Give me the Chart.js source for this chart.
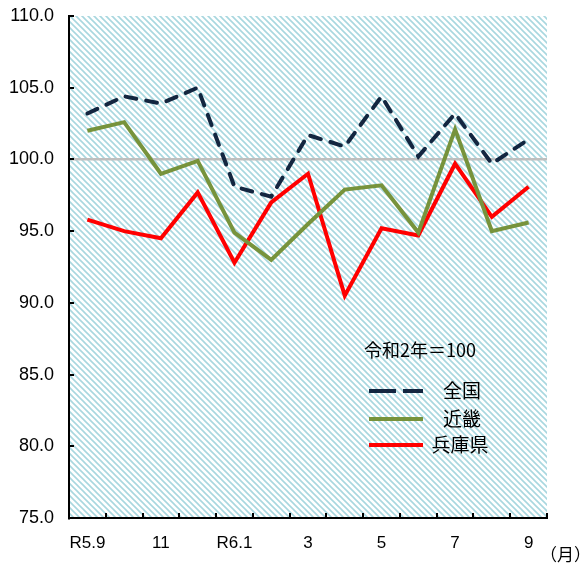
<!DOCTYPE html>
<html>
<head>
<meta charset="utf-8">
<script src="https://cdn.jsdelivr.net/npm/chart.js@4.4.0/dist/chart.umd.min.js"></script>
<style>
  html, body { margin: 0; padding: 0; background: #ffffff; }
  #wrap { width: 587px; height: 569px; position: relative; }
</style>
</head>
<body>
<div id="wrap"><canvas id="priceChart" width="587" height="569"></canvas></div>
<script>
// months R5.9 .. R6.9
const months = ["R5.9", "10", "11", "12", "R6.1", "2", "3", "4", "5", "6", "7", "8", "9"];
const zenkoku = [103.2, 104.4, 103.9, 105.0, 98.1, 97.4, 101.7, 100.9, 104.4, 100.2, 103.2, 99.7, 101.4];
const kinki = [102.0, 102.6, 99.0, 99.9, 94.9, 93.0, 95.5, 97.9, 98.2, 94.9, 102.1, 95.0, 95.6];
const hyogo = [95.8, 95.0, 94.5, 97.7, 92.8, 97.0, 99.0, 90.5, 95.2, 94.7, 99.7, 96.0, 98.1];
const yMin = 75, yMax = 110, yStep = 5;

// striped background for the plot area
function makeStripes() {
    let c = document.createElement("canvas");
    c.width = 6; c.height = 6;
    let g = c.getContext("2d");
    g.fillStyle = "#ffffff";
    g.fillRect(0, 0, 6, 6);
    g.strokeStyle = "#a8d7df";
    g.lineWidth = 1.6;
    g.beginPath();
    g.moveTo(-3, -3); g.lineTo(9, 9);
    g.moveTo(-3, 3); g.lineTo(3, 9);
    g.moveTo(3, -3); g.lineTo(9, 3);
    g.stroke();
    return c;
}

const bgPlugin = {
    id: "stripes",
    beforeDraw(chart) {
        let a = chart.chartArea, ctx = chart.ctx;
        ctx.save();
        ctx.fillStyle = ctx.createPattern(makeStripes(), "repeat");
        ctx.fillRect(a.left, a.top, a.right - a.left, a.bottom - a.top);
        ctx.restore();
    }
};

// inward tick marks + legend + notes
const extrasPlugin = {
    id: "extras",
    afterDatasetsDraw(chart) {
        let ctx = chart.ctx, a = chart.chartArea;
        let y = chart.scales.y;
        ctx.save();
        ctx.strokeStyle = "#000000";
        ctx.lineWidth = 2;
        ctx.beginPath();
        let step = (a.right - a.left) / months.length;
        for (let i = 1; i <= months.length; i++) {
            let px = Math.round(a.left + i * step);
            ctx.moveTo(px, a.bottom);
            ctx.lineTo(px, a.bottom - 5);
        }
        y.ticks.forEach(t => {
            let py = Math.round(y.getPixelForValue(t.value));
            ctx.moveTo(a.left, py);
            ctx.lineTo(a.left + 5, py);
        });
        ctx.stroke();

        // legend
        ctx.fillStyle = "#000000";
        ctx.font = "18px 'Noto Sans CJK JP', sans-serif";
        ctx.textBaseline = "middle";
        ctx.textAlign = "left";
        ctx.fillText("令和2年＝100", 364, 350);
        let rows = [391, 419, 445];
        chart.data.datasets.forEach((ds, i) => {
            ctx.strokeStyle = ds.borderColor;
            ctx.lineWidth = 4;
            ctx.lineCap = "butt";
            ctx.setLineDash(ds.borderDash ? [27, 7] : []);
            ctx.beginPath();
            ctx.moveTo(369, rows[i]);
            ctx.lineTo(423, rows[i]);
            ctx.stroke();
            ctx.setLineDash([]);
            ctx.font = "19px 'Noto Sans CJK JP', sans-serif";
            ctx.textAlign = "center";
            ctx.fillText(ds.label, 462 + (i === 2 ? -2 : 0), rows[i]);
        });

        ctx.font = "17px 'Noto Sans CJK JP', sans-serif";
        ctx.textAlign = "right";
        ctx.fillText("（月）", 591, 555);
        ctx.restore();
    }
};

let ctx = document.getElementById("priceChart").getContext("2d");
new Chart(ctx, {
    type: "line",
    data: {
        labels: months,
        datasets: [
            { label: "全国", data: zenkoku, borderColor: "#132640", borderWidth: 4, borderDash: [11, 10], borderCapStyle: "round" },
            { label: "近畿", data: kinki, borderColor: "#77933c", borderWidth: 4 },
            { label: "兵庫県", data: hyogo, borderColor: "#ff0000", borderWidth: 4 }
        ]
    },
    options: {
        responsive: false,
        animation: false,
        layout: { padding: { top: 16, right: 40, left: 0, bottom: 0 } },
        elements: { point: { radius: 0 }, line: { tension: 0, borderJoinStyle: "miter" } },
        plugins: { legend: { display: false }, tooltip: { enabled: false } },
        scales: {
            x: {
                offset: true,
                grid: { display: false, offset: true },
                border: { display: true, color: "#000000", width: 2 },
                ticks: {
                    autoSkip: false,
                    maxRotation: 0,
                    padding: 7,
                    color: "#000000",
                    font: { family: "'Liberation Sans Narrow', 'Liberation Sans', sans-serif", size: 17 },
                    callback: (v, i) => i % 2 === 0 ? months[i] : ""
                },
                afterFit: s => { s.height = 51; s.paddingLeft = 0; s.paddingRight = 0; }
            },
            y: {
                min: yMin,
                max: yMax,
                grid: {
                    drawTicks: false,
                    lineWidth: 2.5,
                    color: c => c.tick && c.tick.value === 100 ? "#bfbfbf" : "rgba(0,0,0,0)"
                },
                border: { display: true, color: "#000000", width: 2 },
                ticks: {
                    stepSize: yStep,
                    padding: 15,
                    color: "#000000",
                    font: { family: "'Liberation Sans', Arial, sans-serif", size: 18 },
                    callback: v => v.toFixed(1)
                },
                afterFit: s => { s.width = 69; s.paddingTop = 0; s.paddingBottom = 0; }
            }
        }
    },
    plugins: [bgPlugin, extrasPlugin]
});
</script>
</body>
</html>
